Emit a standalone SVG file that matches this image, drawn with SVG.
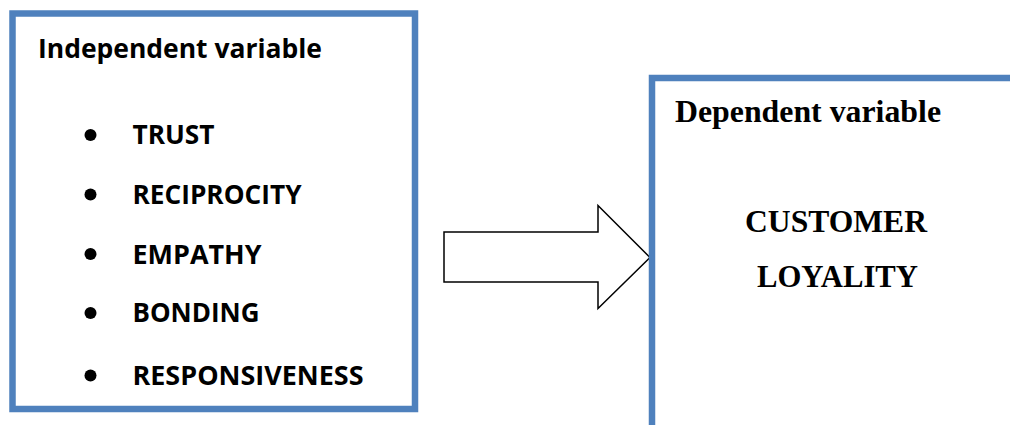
<svg xmlns="http://www.w3.org/2000/svg" width="1010" height="425" viewBox="0 0 1010 425">
<style>
.box{fill:#fff;stroke:#4F81BD;stroke-width:6.5}
.sans{font-family:"Open Sans","Liberation Sans",sans-serif;font-weight:bold;font-size:27px;fill:#000}
.serif{font-family:"Liberation Serif","Times New Roman",serif;font-weight:bold;font-size:32px;fill:#000}
.dot{fill:#000}
.arrow{fill:#fff;stroke:#000;stroke-width:1.5;stroke-linejoin:miter}
</style>
<rect width="1010" height="425" fill="#fff"/>
<g id="independent">
<rect class="box" x="12.5" y="13.5" width="402.5" height="395.5"/>
<text class="sans" x="38" y="58" textLength="284" lengthAdjust="spacingAndGlyphs">Independent variable</text>
<circle class="dot" cx="90.5" cy="135" r="6"/>
<text class="sans" x="132.5" y="144" textLength="82" lengthAdjust="spacingAndGlyphs">TRUST</text>
<circle class="dot" cx="90.5" cy="194.5" r="6"/>
<text class="sans" x="132.5" y="203.5" textLength="169" lengthAdjust="spacingAndGlyphs">RECIPROCITY</text>
<circle class="dot" cx="90.5" cy="254" r="6"/>
<text class="sans" x="132.5" y="263.5" textLength="129" lengthAdjust="spacingAndGlyphs">EMPATHY</text>
<circle class="dot" cx="90.5" cy="313" r="6"/>
<text class="sans" x="132.5" y="322" textLength="127" lengthAdjust="spacingAndGlyphs">BONDING</text>
<circle class="dot" cx="90.5" cy="375.5" r="6"/>
<text class="sans" x="132.5" y="385" textLength="231" lengthAdjust="spacingAndGlyphs">RESPONSIVENESS</text>
</g>
<g id="connectors">
<polygon class="arrow" points="444,232 598,232 598,205.5 650,257.5 598,308.5 598,282 444,282"/>
</g>
<g id="dependent">
<rect class="box" x="652" y="78" width="380" height="370"/>
<text class="serif" x="675" y="121.5" textLength="266" lengthAdjust="spacingAndGlyphs">Dependent variable</text>
<text class="serif" x="745" y="231.5" textLength="182" lengthAdjust="spacingAndGlyphs">CUSTOMER</text>
<text class="serif" x="757" y="286.5" textLength="161" lengthAdjust="spacingAndGlyphs">LOYALITY</text>
</g>
</svg>
